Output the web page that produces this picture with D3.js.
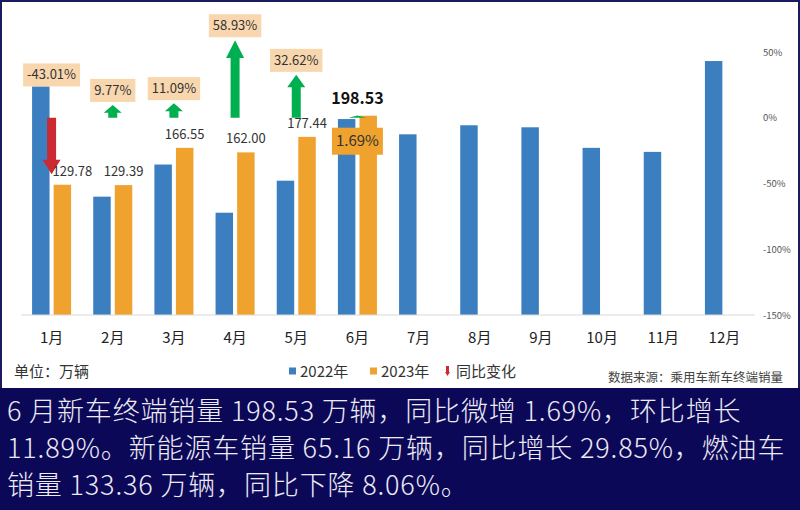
<!DOCTYPE html>
<html>
<head>
<meta charset="utf-8">
<script src="https://cdn.jsdelivr.net/npm/d3@7"></script>
<style>
  html, body { margin: 0; padding: 0; background: #14125c; }
  svg { display: block; }
</style>
</head>
<body>
<div id="chart"></div>
<script>
const months = ["1月", "2月", "3月", "4月", "5月", "6月", "7月", "8月", "9月", "10月", "11月", "12月"];
const seriesNames = ["2022年", "2023年"];
const sales2022 = [227.7, 117.9, 149.9, 101.9, 133.8, 195.2, 180.0, 189.0, 187.0, 166.5, 162.5, 253.0];
const sales2023 = [129.78, 129.39, 166.55, 162.0, 177.44, 198.53];
const yoyChange = [-43.01, 9.77, 11.09, 58.93, 32.62, 1.69];
const rightTicks = [-150, -100, -50, 0, 50];
const summaryLines = [
  "6 月新车终端销量 198.53 万辆，同比微增 1.69%，环比增长",
  "11.89%。新能源车销量 65.16 万辆，同比增长 29.85%，燃油车",
  "销量 133.36 万辆，同比下降 8.06%。",
];

const WIDTH = 800;
const HEIGHT = 510;
const PLOT_LEFT = 21;
const PLOT_RIGHT = 755;
const PLOT_TOP = 52;
const PLOT_BOTTOM = 315;
const PANEL_BOTTOM = 388;

const BLUE = "#3b7fc0";
const ORANGE = "#f0a22e";
const GREEN = "#00b050";
const RED = "#cc2a33";
const PEACH = "#f8d7ae";
const NAVY = "#0c0858";
const FONT = "'Noto Sans CJK SC', 'Noto Sans', sans-serif";

// the Jan value label is pushed right so it clears the red arrow
const valueLabelNudge = { "1月": 10 };

const svg = d3
  .select("#chart")
  .append("svg")
  .attr("width", WIDTH)
  .attr("height", HEIGHT)
  .attr("viewBox", [0, 0, WIDTH, HEIGHT])
  .style("font-family", FONT);

svg.append("rect").attr("width", WIDTH).attr("height", HEIGHT).attr("fill", "#1b1a5e");
svg
  .append("rect")
  .attr("x", 2)
  .attr("y", 2)
  .attr("width", WIDTH - 4)
  .attr("height", PANEL_BOTTOM - 2)
  .attr("fill", "#ffffff");
svg
  .append("rect")
  .attr("x", 0)
  .attr("y", PANEL_BOTTOM)
  .attr("width", WIDTH)
  .attr("height", HEIGHT - PANEL_BOTTOM)
  .attr("fill", NAVY);

const x0 = d3
  .scaleBand()
  .domain(months)
  .range([PLOT_LEFT, PLOT_RIGHT])
  .paddingInner(0.362)
  .paddingOuter(0.181);

const x1 = d3
  .scaleBand()
  .domain(seriesNames)
  .range([0, x0.bandwidth()])
  .paddingInner(0.19);

const ySales = d3.scaleLinear().domain([0, 262]).range([PLOT_BOTTOM, PLOT_TOP]);
const yPct = d3.scaleLinear().domain([-150, 50]).range([PLOT_BOTTOM, PLOT_TOP]);

const groupCenter = (m) => x0(m) + x0.bandwidth() / 2;
const bar2023Center = (m) => x0(m) + x1(seriesNames[1]) + x1.bandwidth() / 2;

// bars
const barsGroup = svg.append("g").attr("class", "bars");
barsGroup
  .selectAll("rect.bar-2022")
  .data(sales2022)
  .join("rect")
  .attr("class", "bar-2022")
  .attr("x", (d, i) => x0(months[i]) + x1(seriesNames[0]))
  .attr("y", (d) => ySales(d))
  .attr("width", x1.bandwidth())
  .attr("height", (d) => ySales(0) - ySales(d))
  .attr("fill", BLUE);

barsGroup
  .selectAll("rect.bar-2023")
  .data(sales2023)
  .join("rect")
  .attr("class", "bar-2023")
  .attr("x", (d, i) => x0(months[i]) + x1(seriesNames[1]))
  .attr("y", (d) => ySales(d))
  .attr("width", x1.bandwidth())
  .attr("height", (d) => ySales(0) - ySales(d))
  .attr("fill", ORANGE);

// baseline
svg
  .append("line")
  .attr("x1", PLOT_LEFT)
  .attr("x2", PLOT_RIGHT)
  .attr("y1", PLOT_BOTTOM)
  .attr("y2", PLOT_BOTTOM)
  .attr("stroke", "#d9d9d9")
  .attr("stroke-width", 1);

// month axis
const xAxis = svg
  .append("g")
  .attr("transform", `translate(0,${PLOT_BOTTOM})`)
  .call(d3.axisBottom(x0).tickSize(0).tickPadding(17));
xAxis.select(".domain").remove();
xAxis
  .selectAll("text")
  .attr("font-family", FONT)
  .attr("font-size", 15)
  .attr("fill", "#222");

// right percent axis
const rightAxis = svg
  .append("g")
  .attr("transform", `translate(762,0)`)
  .call(
    d3
      .axisRight(yPct)
      .tickValues(rightTicks)
      .tickSize(0)
      .tickPadding(1)
      .tickFormat((d) => `${d}%`)
  );
rightAxis.select(".domain").remove();
rightAxis
  .selectAll("text")
  .attr("font-family", FONT)
  .attr("font-size", 9.5)
  .attr("fill", "#555");

// year-on-year arrows, drawn on the percent scale from 0%
function arrowPath(cx, value) {
  const yBase = yPct(0);
  const yTip = yPct(value);
  const len = Math.abs(yTip - yBase);
  const dir = yTip < yBase ? 1 : -1;
  const head = len < 4 ? len : Math.min(20, 6 + len * 0.15);
  const yHead = yTip + dir * head;
  const shaftHalf = 4.5;
  const headHalf = 9;
  return [
    `M${cx - shaftHalf},${yBase}`,
    `L${cx - shaftHalf},${yHead}`,
    `L${cx - headHalf},${yHead}`,
    `L${cx},${yTip}`,
    `L${cx + headHalf},${yHead}`,
    `L${cx + shaftHalf},${yHead}`,
    `L${cx + shaftHalf},${yBase}`,
    "Z",
  ].join("");
}

svg
  .append("g")
  .attr("class", "yoy-arrows")
  .selectAll("path")
  .data(yoyChange)
  .join("path")
  .attr("d", (d, i) => arrowPath(groupCenter(months[i]), d))
  .attr("fill", (d) => (d < 0 ? RED : GREEN));

// 2023 value labels (latest month is bold and centred over the group)
const lastIndex = sales2023.length - 1;
svg
  .append("g")
  .attr("class", "value-labels")
  .selectAll("text")
  .data(sales2023)
  .join("text")
  .attr("x", (d, i) =>
    i === lastIndex
      ? groupCenter(months[i])
      : bar2023Center(months[i]) + (valueLabelNudge[months[i]] || 0)
  )
  .attr("y", (d, i) => ySales(d) - (i === lastIndex ? 12 : 9))
  .attr("text-anchor", "middle")
  .attr("font-size", (d, i) => (i === lastIndex ? 16 : 13))
  .attr("font-weight", (d, i) => (i === lastIndex ? "bold" : "normal"))
  .attr("fill", (d, i) => (i === lastIndex ? "#111" : "#333"))
  .text((d) => d.toFixed(2));

// percent label boxes
const pctGroup = svg.append("g").attr("class", "pct-labels");
yoyChange.forEach((value, i) => {
  const cx = groupCenter(months[i]);
  const isLast = i === lastIndex;
  const fontSize = isLast ? 15 : 13;
  const boxH = isLast ? 27 : 23;
  let boxTop;
  if (isLast) boxTop = ySales(sales2023[i]) + 12;
  else if (value < 0) boxTop = ySales(sales2022[i]) - boxH;
  else boxTop = yPct(value) - 3 - boxH;

  const g = pctGroup.append("g");
  const rect = g.append("rect").attr("fill", isLast ? ORANGE : PEACH);
  const label = g
    .append("text")
    .attr("x", cx)
    .attr("y", boxTop + boxH / 2)
    .attr("dy", "0.35em")
    .attr("text-anchor", "middle")
    .attr("font-size", fontSize)
    .attr("fill", "#333")
    .text(`${value.toFixed(2)}%`);
  const boxW = label.node().getComputedTextLength() + 8;
  rect
    .attr("x", cx - boxW / 2)
    .attr("y", boxTop)
    .attr("width", boxW)
    .attr("height", boxH);
});

// footer texts inside the panel
svg
  .append("text")
  .attr("x", 14)
  .attr("y", 377)
  .attr("font-size", 15)
  .attr("fill", "#333")
  .text("单位：万辆");

svg
  .append("text")
  .attr("x", 783)
  .attr("y", 382)
  .attr("text-anchor", "end")
  .attr("font-size", 12.5)
  .attr("fill", "#444")
  .text("数据来源：乘用车新车终端销量");

// legend
const legendItems = [
  { label: "2022年", color: BLUE, x: 289, kind: "box" },
  { label: "2023年", color: ORANGE, x: 370, kind: "box" },
  { label: "同比变化", color: RED, x: 445, kind: "arrow" },
];
const legend = svg.append("g").attr("class", "legend");
legendItems.forEach((item) => {
  if (item.kind === "box") {
    legend
      .append("rect")
      .attr("x", item.x)
      .attr("y", 367.5)
      .attr("width", 7)
      .attr("height", 7)
      .attr("fill", item.color);
  } else {
    legend
      .append("path")
      .attr("d", `M${item.x + 1},366L${item.x + 1},372L${item.x},372L${item.x + 2.5},376L${item.x + 5},372L${item.x + 4},372L${item.x + 4},366Z`)
      .attr("fill", item.color);
  }
  legend
    .append("text")
    .attr("x", item.x + 11)
    .attr("y", 376.5)
    .attr("font-size", 15)
    .attr("fill", "#333")
    .text(item.label);
});

// summary paragraph
svg
  .append("g")
  .attr("class", "summary")
  .selectAll("text")
  .data(summaryLines)
  .join("text")
  .attr("x", 7)
  .attr("y", (d, i) => 421 + i * 37)
  .attr("font-size", 27)
  .attr("font-weight", 300)
  .attr("letter-spacing", 0.85)
  .attr("fill", "#ecebf4")
  .text((d) => d);
</script>
</body>
</html>
